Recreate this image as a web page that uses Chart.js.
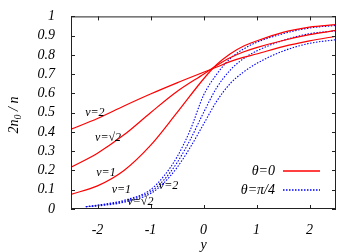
<!DOCTYPE html>
<html>
<head>
<meta charset="utf-8">
<script src="https://cdn.jsdelivr.net/npm/chart.js@4/dist/chart.umd.min.js"></script>
<style>
  html, body { margin: 0; padding: 0; background: #fff; }
  #wrap { width: 360px; height: 252px; }
</style>
</head>
<body>
<div id="wrap"><canvas id="c"></canvas></div>
<script>
// theta = 0 curves (red, solid)
const redX = [-2.5, -2, -1.5, -1, -0.5, 0, 0.25, 0.5, 0.75, 1, 1.5, 2, 2.5]
const redV1 = [0.076, 0.12, 0.20, 0.33, 0.50, 0.675, 0.75, 0.805, 0.845, 0.872, 0.917, 0.944, 0.957]
const redVsqrt2 = [0.217, 0.29, 0.385, 0.50, 0.61, 0.70, 0.745, 0.785, 0.815, 0.838, 0.875, 0.905, 0.927]
const redV2 = [0.414, 0.47, 0.535, 0.597, 0.655, 0.71, 0.737, 0.765, 0.787, 0.805, 0.843, 0.873, 0.897]

// theta = pi/4 curves (blue, dotted)
const blueX = [-2.22, -2, -1.5, -1, -0.75, -0.5, -0.25, 0, 0.25, 0.5, 0.75, 1, 1.5, 2, 2.5]
const blueV1 = [0.012, 0.02, 0.045, 0.10, 0.17, 0.27, 0.41, 0.59, 0.70, 0.78, 0.83, 0.865, 0.91, 0.94, 0.953]
const blueVsqrt2 = [0.012, 0.018, 0.04, 0.09, 0.15, 0.24, 0.36, 0.50, 0.63, 0.72, 0.78, 0.82, 0.875, 0.91, 0.925]
const blueV2 = [0.012, 0.016, 0.035, 0.08, 0.135, 0.215, 0.32, 0.44, 0.56, 0.65, 0.71, 0.755, 0.82, 0.86, 0.879]

const xTicks = [-2, -1, 0, 1, 2]
const yTicks = [0, 0.1, 0.2, 0.3, 0.4, 0.5, 0.6, 0.7, 0.8, 0.9, 1]

// curve labels: [text, x, value]
const curveLabels = [
  ["v=2", -2.05, 0.50],
  ["v=√2", -1.80, 0.37],
  ["v=1", -1.84, 0.19],
  ["v=1", -1.55, 0.10],
  ["v=√2", -1.19, 0.036],
  ["v=2", -0.66, 0.12]
]

const RED = "#ff0000"
const BLUE = "#0000ff"
const SERIF = "'Liberation Serif', 'DejaVu Serif', serif"

const pts = (xs, vs) => xs.map((x, i) => ({ x: x, y: vs[i] }))

const redLine = { borderColor: RED, borderWidth: 1.2, pointRadius: 0, cubicInterpolationMode: "monotone", fill: false }
const blueLine = { borderColor: BLUE, borderWidth: 1.1, borderDash: [1.5, 1.5], pointRadius: 0, cubicInterpolationMode: "monotone", fill: false }

const decor = {
  id: "decor",
  afterDraw(chart) {
    const ctx = chart.ctx
    const a = chart.chartArea
    const sx = chart.scales.x
    const sy = chart.scales.y
    ctx.save()

    // frame
    ctx.strokeStyle = "#222"
    ctx.lineWidth = 1
    ctx.strokeRect(a.left + 0.5, a.top + 0.5, a.right - a.left - 1, a.bottom - a.top - 1)

    // inward ticks on all four sides
    ctx.beginPath()
    xTicks.forEach(t => {
      const p = Math.round(sx.getPixelForValue(t)) + 0.5
      ctx.moveTo(p, a.bottom); ctx.lineTo(p, a.bottom - 4)
      ctx.moveTo(p, a.top); ctx.lineTo(p, a.top + 4)
    })
    yTicks.forEach(t => {
      const p = Math.round(sy.getPixelForValue(t)) + 0.5
      ctx.moveTo(a.left, p); ctx.lineTo(a.left + 4, p)
      ctx.moveTo(a.right, p); ctx.lineTo(a.right - 4, p)
    })
    ctx.stroke()

    // curve labels
    ctx.fillStyle = "#000"
    ctx.font = "italic 12px " + SERIF
    ctx.textAlign = "center"
    ctx.textBaseline = "middle"
    curveLabels.forEach(l => {
      ctx.fillText(l[0], sx.getPixelForValue(l[1]), sy.getPixelForValue(l[2]))
    })

    // legend
    ctx.font = "italic 14px " + SERIF
    ctx.textAlign = "right"
    ctx.fillText("θ=0", 275, 171)
    ctx.fillText("θ=π/4", 275, 190)
    ctx.lineWidth = 1.3
    ctx.strokeStyle = RED
    ctx.beginPath(); ctx.moveTo(283, 171); ctx.lineTo(320, 171); ctx.stroke()
    ctx.strokeStyle = BLUE
    ctx.setLineDash([1.5, 1.5])
    ctx.beginPath(); ctx.moveTo(283, 190); ctx.lineTo(320, 190); ctx.stroke()
    ctx.setLineDash([])

    // x axis title
    ctx.textAlign = "center"
    ctx.font = "italic 14px " + SERIF
    ctx.fillText("y", sx.getPixelForValue(0), 245)

    // y axis title: 2n_0 / n
    ctx.translate(14, 115)
    ctx.rotate(-Math.PI / 2)
    const f = "italic 14px " + SERIF
    const fs = "italic 10px " + SERIF
    ctx.font = f
    const w1 = ctx.measureText("2n").width
    const w3 = ctx.measureText(" / n").width
    ctx.font = fs
    const w2 = ctx.measureText("0").width
    const x0 = -(w1 + w2 + w3) / 2
    ctx.textAlign = "left"
    ctx.font = f
    ctx.fillText("2n", x0, 0)
    ctx.font = fs
    ctx.fillText("0", x0 + w1, 4)
    ctx.font = f
    ctx.fillText(" / n", x0 + w1 + w2, 0)
    ctx.restore()
  }
}

new Chart(document.getElementById("c"), {
  type: "line",
  data: {
    datasets: [
      Object.assign({ label: "v=1, θ=0", data: pts(redX, redV1) }, redLine),
      Object.assign({ label: "v=√2, θ=0", data: pts(redX, redVsqrt2) }, redLine),
      Object.assign({ label: "v=2, θ=0", data: pts(redX, redV2) }, redLine),
      Object.assign({ label: "v=1, θ=π/4", data: pts(blueX, blueV1) }, blueLine),
      Object.assign({ label: "v=√2, θ=π/4", data: pts(blueX, blueVsqrt2) }, blueLine),
      Object.assign({ label: "v=2, θ=π/4", data: pts(blueX, blueV2) }, blueLine)
    ]
  },
  options: {
    responsive: true,
    maintainAspectRatio: false,
    animation: false,
    layout: { padding: { top: 16, right: 24, left: 0, bottom: 0 } },
    plugins: { legend: { display: false }, tooltip: { enabled: false } },
    scales: {
      x: {
        type: "linear",
        min: -2.5,
        max: 2.5,
        afterFit: s => { s.height = 43 },
        afterBuildTicks: s => { s.ticks = xTicks.map(v => ({ value: v })) },
        grid: { display: false },
        border: { display: false },
        ticks: { color: "#000", autoSkip: false, maxRotation: 0, padding: 5, font: { family: SERIF, size: 14, style: "italic" }, callback: v => String(v) }
      },
      y: {
        min: 0,
        max: 1,
        afterFit: s => { s.width = 71 },
        afterBuildTicks: s => { s.ticks = yTicks.map(v => ({ value: v })) },
        grid: { display: false },
        border: { display: false },
        ticks: { color: "#000", autoSkip: false, padding: 8, font: { family: SERIF, size: 14, style: "italic" }, callback: v => String(+v.toFixed(1)) }
      }
    }
  },
  plugins: [decor]
})
</script>
</body>
</html>
